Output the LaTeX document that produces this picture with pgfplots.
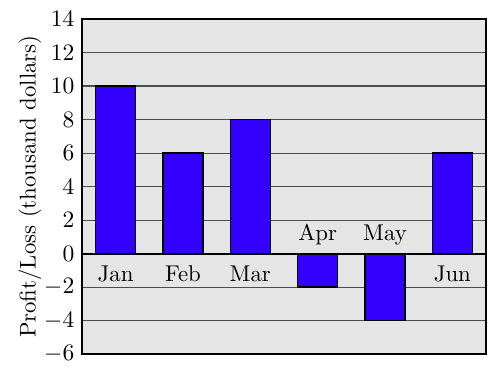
\documentclass[border=0pt]{standalone}
\usepackage{pgfplots}
\pgfplotsset{compat=1.18}
\definecolor{barblue}{RGB}{51,0,255}
\begin{document}
\begin{tikzpicture}
\begin{axis}[
  scale only axis,
  width=188pt, height=156pt,
  xmin=0.5, xmax=6.5,
  ymin=-6, ymax=14,
  ytick={-6,-4,...,14},
  xtick=\empty,
  ymajorgrids,
  grid style={black!70, line width=0.5pt},
  major tick length=0pt,
  axis line style={line width=0.9pt},
  axis background/.style={fill=gray!20},
  font=\fontsize{10.6}{12.7}\selectfont,
  ylabel={Profit/Loss (thousand dollars)},
  ylabel style={yshift=-5.5pt},
  clip=false,
]
\addplot[ybar, bar width=18.6pt, fill=barblue, draw=black, line width=0.7pt]
  coordinates {(1,10) (2,6) (3,8) (4,-2) (5,-4) (6,6)};
\draw[line width=0.9pt] (axis cs:0.5,0) -- (axis cs:6.5,0);
\addplot[draw=none, mark=none, nodes near coords, point meta=explicit symbolic,
  nodes near coords style={anchor=base, yshift=-12.8pt, inner sep=0pt}]
  coordinates {(1,0)[Jan] (2,0)[Feb] (3,0)[Mar] (6,0)[Jun]};
\addplot[draw=none, mark=none, nodes near coords, point meta=explicit symbolic,
  nodes near coords style={anchor=base, yshift=6.3pt, inner sep=0pt}]
  coordinates {(4,0)[Apr] (5,0)[May]};
\end{axis}
\path (current axis.south west) ++(-38.1pt,-8.8pt);
\path (current axis.north east) ++(5.1pt,8.8pt);
\end{tikzpicture}
\end{document}
